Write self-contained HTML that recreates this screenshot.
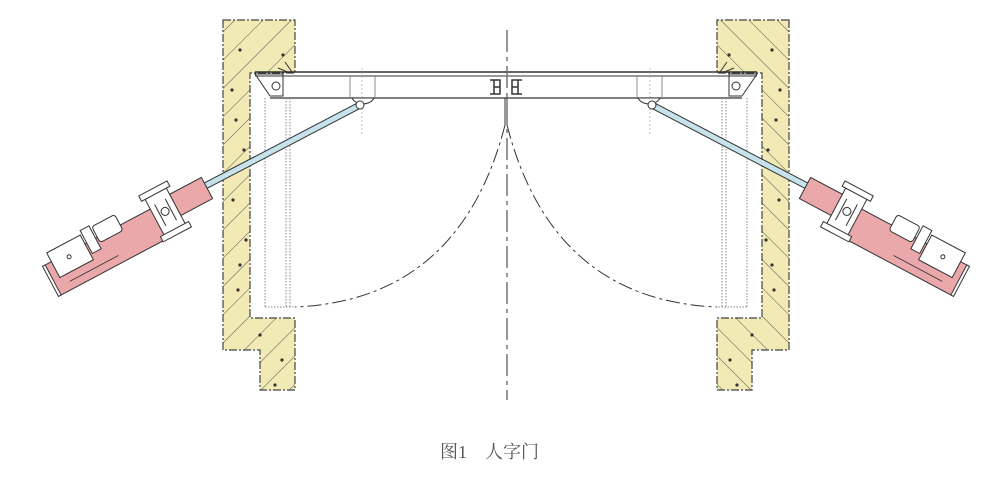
<!DOCTYPE html>
<html><head><meta charset="utf-8"><style>
html,body{margin:0;padding:0;background:#fff;}
svg{display:block}
</style></head><body>
<svg width="1000" height="481" viewBox="0 0 1000 481" xmlns="http://www.w3.org/2000/svg">
<defs>
<pattern id="hatch" patternUnits="userSpaceOnUse" width="20" height="20" patternTransform="rotate(45)">
<rect width="20" height="20" fill="#f1eab5"/>
<line x1="0" y1="0" x2="0" y2="20" stroke="#555" stroke-width="1"/>
</pattern>
<g id="half">
<path d="M223,20 L295,20 L295,73 L250,73 L250,318 L295,318 L295,390 L260,390 L260,350 L223,350 Z" fill="url(#hatch)" stroke="#444" stroke-width="1.2" stroke-dasharray="8,2,2,2"/>
<g fill="#333">
<circle cx="240" cy="50" r="1.6"/><circle cx="232" cy="90" r="1.6"/><circle cx="244" cy="150" r="1.6"/><circle cx="233" cy="200" r="1.6"/><circle cx="246" cy="240" r="1.6"/><circle cx="238" cy="290" r="1.6"/><circle cx="260" cy="335" r="1.6"/><circle cx="282" cy="360" r="1.6"/><circle cx="275" cy="385" r="1.6"/><circle cx="283" cy="55" r="1.6"/><circle cx="236" cy="120" r="1.6"/><circle cx="240" cy="265" r="1.6"/>
</g>
<line x1="255" y1="72" x2="507" y2="72" stroke="#333" stroke-width="1.5"/>
<line x1="255" y1="76" x2="507" y2="76" stroke="#333" stroke-width="1"/>
<line x1="270" y1="98" x2="507" y2="98" stroke="#333" stroke-width="1.3"/>
<line x1="350" y1="76" x2="350" y2="98" stroke="#777" stroke-width="0.8"/>
<line x1="375" y1="76" x2="375" y2="98" stroke="#777" stroke-width="0.8"/>
<line x1="362" y1="68" x2="362" y2="135" stroke="#999" stroke-width="0.6" stroke-dasharray="2,2"/>
<path d="M255,74 L283,74 L283,96 L270,96 Z" fill="none" stroke="#333" stroke-width="1"/>
<circle cx="276" cy="86" r="4" fill="none" stroke="#333"/>
<path d="M285,62 L292,72 M278,68 L290,73" stroke="#333" fill="none"/>
<path d="M490,80 h10 v14 h-10 M494,80 v14 M500,87 h-6" fill="none" stroke="#333" stroke-width="1.5"/>
<path d="M352,98 A12,10 0 0 0 374,98 Z" fill="#fff" stroke="#333"/>
<line x1="265" y1="98" x2="265" y2="307" stroke="#888" stroke-dasharray="1.5,1.5"/>
<line x1="286" y1="98" x2="286" y2="307" stroke="#888" stroke-dasharray="1.5,1.5"/>
<line x1="290" y1="98" x2="290" y2="307" stroke="#888" stroke-dasharray="1.5,1.5"/>
<line x1="265" y1="307" x2="295" y2="307" stroke="#888" stroke-dasharray="1.5,1.5"/>
<path d="M505,125 Q460,300 295,307" fill="none" stroke="#333" stroke-width="1" stroke-dasharray="14,4,3,4"/>
<line x1="505" y1="98" x2="505" y2="125" stroke="#333" stroke-width="1"/>
<line x1="362" y1="104" x2="205" y2="186" stroke="#333" stroke-width="7"/>
<line x1="362" y1="104" x2="205" y2="186" stroke="#c6e2ea" stroke-width="5"/>
<circle cx="360" cy="105" r="4" fill="#fff" stroke="#333"/>
<g transform="translate(207,188) rotate(-28)">
<rect x="-50" y="-12" width="50" height="24" fill="#eaa8aa" stroke="#333"/>
<rect x="-180" y="-8" width="132" height="34" fill="#eaa8aa" stroke="#333"/>
<line x1="-165" y1="18" x2="-110" y2="18" stroke="#333" stroke-width="0.8"/>
<rect x="-182" y="-8" width="3" height="34" fill="#fff" stroke="#333"/>
<rect x="-172" y="-18" width="38" height="28" fill="#fff" stroke="#333"/>
<circle cx="-154" cy="-4" r="2" fill="none" stroke="#333"/>
<rect x="-132" y="-22" width="10" height="26" fill="#fff" stroke="#333"/>
<rect x="-120" y="-20" width="26" height="18" rx="3" fill="#fff" stroke="#333"/>
<rect x="-60" y="-22" width="24" height="46" fill="#fff" stroke="#333"/>
<rect x="-64" y="-25" width="32" height="6" fill="#fff" stroke="#333"/>
<rect x="-64" y="21" width="32" height="6" fill="#fff" stroke="#333"/>
<line x1="-54" y1="-10" x2="-54" y2="14" stroke="#333"/>
<line x1="-42" y1="-10" x2="-42" y2="14" stroke="#333"/>
<circle cx="-48" cy="1" r="4" fill="#fff" stroke="#333"/>
</g>
</g>
</defs>
<use href="#half"/>
<use href="#half" transform="translate(1012,0) scale(-1,1)"/>
<line x1="507" y1="30" x2="507" y2="400" stroke="#777" stroke-width="1.5" stroke-dasharray="22,5,4,5"/>
<text x="440" y="458" font-family="Liberation Serif, 'Noto Serif CJK SC', serif" font-size="18" fill="#555">图1　人字门</text>
</svg>
</body></html>
